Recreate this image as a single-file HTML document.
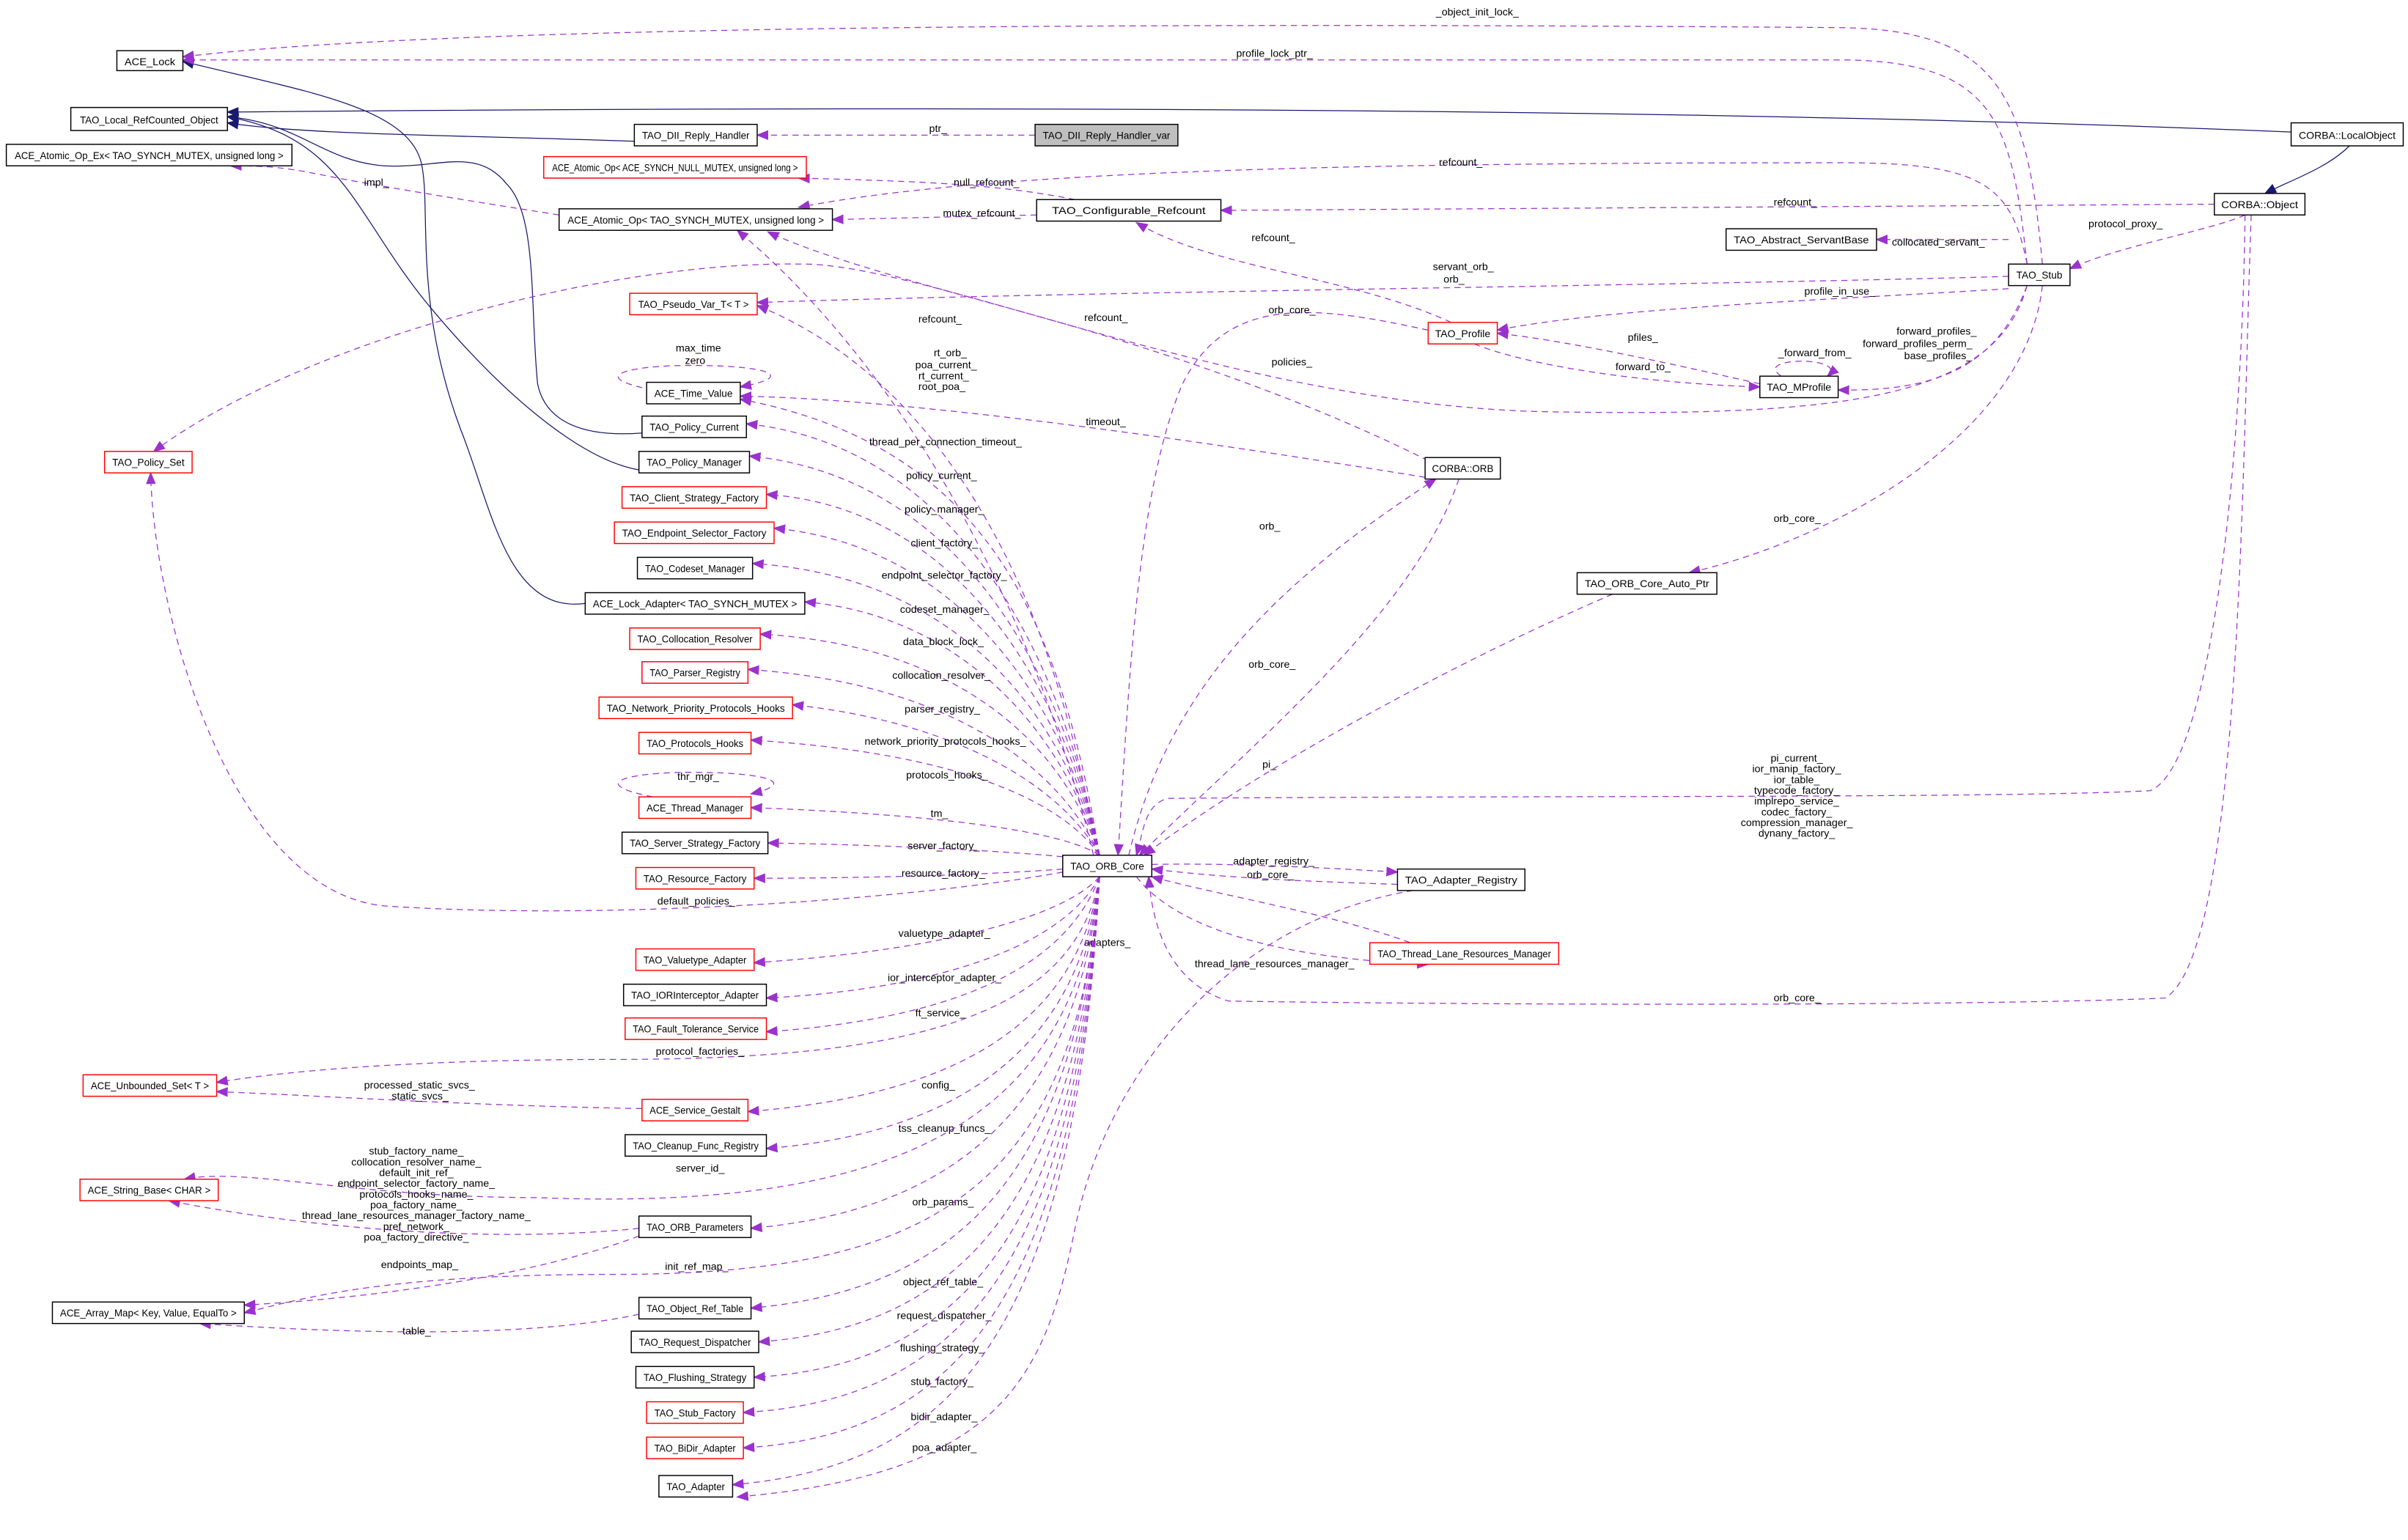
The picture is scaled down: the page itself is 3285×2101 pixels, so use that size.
<!DOCTYPE html>
<html><head><meta charset="utf-8"><style>
html,body{margin:0;padding:0;background:#fff;}
svg{display:block;}
text{font-family:"Liberation Sans Narrow","Liberation Sans",sans-serif;font-size:6.8px;fill:#000;}
.n{fill:#fff;stroke:#000;stroke-width:0.7;}
.r{fill:#fff;stroke:#ff0000;stroke-width:0.7;}
.g{fill:#bfbfbf;stroke:#000;stroke-width:0.7;}
.d{fill:none;stroke:#9a32cd;stroke-width:0.6;stroke-dasharray:4,3;}
.b{fill:none;stroke:#191970;stroke-width:0.6;}
</style></head><body>
<svg width="3285" height="2101" viewBox="0 0 1568 1003" xmlns="http://www.w3.org/2000/svg">
<defs>
<marker id="pa" viewBox="0 0 10 10" refX="9" refY="5" markerWidth="8" markerHeight="8" markerUnits="userSpaceOnUse" orient="auto"><path d="M0,1 L10,5 L0,9 z" fill="#9a32cd"/></marker>
<marker id="ba" viewBox="0 0 10 10" refX="9" refY="5" markerWidth="8" markerHeight="8" markerUnits="userSpaceOnUse" orient="auto"><path d="M0,1 L10,5 L0,9 z" fill="#191970"/></marker>
</defs>

<path class="b" marker-end="url(#ba)" d="M1492,86 C1300,78 900,66 148,73"/>
<path class="b" marker-end="url(#ba)" d="M413,92 C300,88 200,88 148,80"/>
<path class="b" marker-end="url(#ba)" d="M1530,95 C1515,110 1490,118 1475,126"/>
<path class="b" marker-end="url(#ba)" d="M418,282 C380,285 355,275 350,250 C345,200 350,140 330,120 C310,95 285,110 250,108 C210,105 195,80 148,76"/>
<path class="b" marker-end="url(#ba)" d="M416,306 C380,300 330,260 280,200 C230,140 225,90 148,76"/>
<path class="b" marker-end="url(#ba)" d="M381,393 C330,400 320,330 300,280 C270,200 280,140 275,110 C270,70 200,60 119,40"/>

<path class="d" marker-end="url(#pa)" d="M1330,172 C1320,60 1300,20 1200,18 C800,15 300,15 119,37"/>
<text x="935" y="10">_object_init_lock_</text>
<path class="d" marker-end="url(#pa)" d="M1320,172 C1310,80 1300,40 1200,39 C900,39 400,39 119,39"/>
<text x="805" y="37">profile_lock_ptr_</text>
<path class="d" marker-end="url(#pa)" d="M674,88 L493,88"/>
<text x="605" y="86">ptr_</text>
<path class="d" marker-end="url(#pa)" d="M364,140 C300,130 240,120 215,115 C190,110 180,108 150,108"/>
<text x="237" y="121">impl_</text>
<path class="d" marker-end="url(#pa)" d="M700,130 C650,120 600,118 520,116"/>
<text x="621" y="121">null_refcount_</text>
<path class="d" marker-end="url(#pa)" d="M675,140 L542,143"/>
<text x="614" y="141">mutex_refcount_</text>
<path class="d" marker-end="url(#pa)" d="M1442,133 L795,137"/>
<text x="1155" y="134">refcount_</text>
<path class="d" marker-end="url(#pa)" d="M1320,172 C1310,120 1290,106 1200,106 C900,106 650,110 520,135"/>
<text x="937" y="108">refcount_</text>
<path class="d" marker-end="url(#pa)" d="M945,210 C880,180 790,175 740,145"/>
<text x="815" y="157">refcount_</text>
<path class="d" marker-end="url(#pa)" d="M930,300 C850,260 760,230 690,210 C620,190 540,170 500,151"/>
<text x="706" y="209">refcount_</text>
<path class="d" marker-end="url(#pa)" d="M1308,156 L1222,156"/>
<text x="1232" y="160">collocated_servant_</text>
<path class="d" marker-end="url(#pa)" d="M1462,140 C1440,150 1380,160 1348,175"/>
<text x="1360" y="148">protocol_proxy_</text>
<path class="d" marker-end="url(#pa)" d="M1308,180 C1100,186 700,190 493,197"/>
<text x="933" y="176">servant_orb_</text><text x="940" y="184">orb_</text>
<path class="d" marker-end="url(#pa)" d="M1320,186 C1300,260 1200,272 1000,268 C800,262 600,170 520,172 C400,170 200,220 100,294"/>
<text x="828" y="238">policies_</text>
<path class="d" marker-end="url(#pa)" d="M1308,188 C1200,195 1050,200 975,215"/>
<text x="1175" y="192">profile_in_use_</text>
<path class="d" marker-end="url(#pa)" d="M930,215 C860,200 800,190 770,250 C740,320 735,450 728,557"/>
<text x="826" y="204">orb_core_</text>
<path class="d" marker-end="url(#pa)" d="M1146,250 C1080,235 1020,222 975,217"/>
<text x="1060" y="222">pfiles_</text>
<path class="d" marker-end="url(#pa)" d="M960,224 C1000,240 1080,250 1146,252"/>
<text x="1052" y="241">forward_to_</text>
<path class="d" marker-end="url(#pa)" d="M1160,245 C1140,232 1205,232 1190,245"/>
<text x="1158" y="232">_forward_from_</text>
<path class="d" marker-end="url(#pa)" d="M1320,186 C1300,240 1260,255 1197,254"/>
<text x="1235" y="218">forward_profiles_</text><text x="1213" y="226">forward_profiles_perm_</text><text x="1240" y="234">base_profiles_</text>
<path class="d" marker-end="url(#pa)" d="M935,312 C800,290 600,260 482,258"/>
<text x="707" y="277">timeout_</text>
<path class="d" marker-end="url(#pa)" d="M425,254 C380,245 410,238 450,238 C500,238 520,245 482,252"/>
<text x="440" y="229">max_time</text><text x="446" y="237">zero</text>
<path class="d" marker-end="url(#pa)" d="M735,557 C760,450 830,380 935,312"/>
<text x="820" y="345">orb_</text>
<path class="d" marker-end="url(#pa)" d="M950,312 C920,400 820,480 742,557"/>
<text x="813" y="435">orb_core_</text>
<path class="d" marker-end="url(#pa)" d="M1330,186 C1320,280 1200,350 1100,373"/>
<text x="1155" y="340">orb_core_</text>
<path class="d" marker-end="url(#pa)" d="M1050,387 C950,430 820,500 745,557"/>
<text x="822" y="500">pi_</text>
<path class="d" marker-end="url(#pa)" d="M1462,140 C1460,300 1440,500 1400,515 C1300,520 1000,518 760,520 C745,525 745,540 740,557"/>
<text x="1170" y="496" text-anchor="middle">pi_current_</text>
<text x="1170" y="503" text-anchor="middle">ior_manip_factory_</text>
<text x="1170" y="510" text-anchor="middle">ior_table_</text>
<text x="1170" y="517" text-anchor="middle">typecode_factory_</text>
<text x="1170" y="524" text-anchor="middle">implrepo_service_</text>
<text x="1170" y="531" text-anchor="middle">codec_factory_</text>
<text x="1170" y="538" text-anchor="middle">compression_manager_</text>
<text x="1170" y="545" text-anchor="middle">dynany_factory_</text>
<path class="d" marker-end="url(#pa)" d="M1466,140 C1460,300 1460,620 1410,650 C1300,655 1000,655 800,652 C760,640 750,600 748,571"/>
<text x="1155" y="652">orb_core_</text>
<path class="d" marker-end="url(#pa)" d="M750,563 C800,562 860,565 910,568"/>
<text x="803" y="563">adapter_registry_</text>
<path class="d" marker-end="url(#pa)" d="M910,576 C850,574 800,572 750,566"/>
<text x="812" y="572">orb_core_</text>
<path class="d" marker-end="url(#pa)" d="M740,571 C770,610 850,625 930,628"/>
<text x="778" y="630">thread_lane_resources_manager_</text>
<path class="d" marker-end="url(#pa)" d="M950,628 C900,600 800,585 750,571"/>
<path class="d" marker-end="url(#pa)" d="M920,580 C800,600 720,700 700,800 C680,900 650,960 480,975"/>
<text x="706" y="616">adapters_</text>

<g>
<path class="d" marker-end="url(#pa)" d="M712,557 C680,420 600,250 480,150"/><text x="598" y="210">refcount_</text>
<path class="d" marker-end="url(#pa)" d="M714,557 C690,400 620,250 493,199"/>
<text x="608" y="232">rt_orb_</text><text x="596" y="240">poa_current_</text><text x="598" y="247">rt_current_</text><text x="598" y="254">root_poa_</text>
<path class="d" marker-end="url(#pa)" d="M716,557 C690,400 640,290 482,260"/><text x="566" y="290">thread_per_connection_timeout_</text>
<path class="d" marker-end="url(#pa)" d="M716,557 C690,420 620,290 486,276"/><text x="590" y="312">policy_current_</text>
<path class="d" marker-end="url(#pa)" d="M716,557 C690,430 620,310 488,297"/><text x="589" y="334">policy_manager_</text>
<path class="d" marker-end="url(#pa)" d="M716,557 C690,440 620,330 499,322"/><text x="593" y="356">client_factory_</text>
<path class="d" marker-end="url(#pa)" d="M716,557 C690,450 620,355 504,344"/><text x="574" y="377">endpoint_selector_factory_</text>
<path class="d" marker-end="url(#pa)" d="M716,557 C690,460 620,375 490,367"/><text x="586" y="399">codeset_manager_</text>
<path class="d" marker-end="url(#pa)" d="M716,557 C690,470 620,400 524,392"/><text x="588" y="420">data_block_lock_</text>
<path class="d" marker-end="url(#pa)" d="M716,557 C690,480 620,420 495,413"/><text x="581" y="442">collocation_resolver_</text>
<path class="d" marker-end="url(#pa)" d="M716,557 C690,500 620,445 487,436"/><text x="589" y="464">parser_registry_</text>
<path class="d" marker-end="url(#pa)" d="M716,557 C690,510 620,470 516,459"/><text x="563" y="485">network_priority_protocols_hooks_</text>
<path class="d" marker-end="url(#pa)" d="M716,557 C690,520 620,490 489,482"/><text x="590" y="507">protocols_hooks_</text>
<path class="d" marker-end="url(#pa)" d="M716,557 C690,540 600,530 489,526"/><text x="606" y="532">tm_</text>
<path class="d" marker-end="url(#pa)" d="M425,519 C380,510 410,503 450,503 C500,503 520,510 489,517"/><text x="441" y="508">thr_mgr_</text>
<path class="d" marker-end="url(#pa)" d="M692,558 C640,553 560,550 500,549"/><text x="591" y="553">server_factory_</text>
<path class="d" marker-end="url(#pa)" d="M692,566 C640,570 560,572 491,572"/><text x="587" y="571">resource_factory_</text>
<path class="d" marker-end="url(#pa)" d="M692,568 C600,585 400,600 250,590 C150,580 100,400 98,308"/><text x="428" y="589">default_policies_</text>
<path class="d" marker-end="url(#pa)" d="M716,571 C690,600 600,620 491,627"/><text x="585" y="610">valuetype_adapter_</text>
<path class="d" marker-end="url(#pa)" d="M716,571 C690,620 600,645 499,650"/><text x="578" y="639">ior_interceptor_adapter_</text>
<path class="d" marker-end="url(#pa)" d="M716,571 C690,640 600,665 499,672"/><text x="596" y="662">ft_service_</text>
<path class="d" marker-end="url(#pa)" d="M716,571 C700,660 600,690 400,690 C250,690 170,700 141,705"/><text x="427" y="687">protocol_factories_</text>
<path class="d" marker-end="url(#pa)" d="M716,571 C700,680 600,715 487,724"/><text x="600" y="709">config_</text>
<path class="d" marker-end="url(#pa)" d="M418,722 C300,720 200,713 141,711"/><text x="237" y="709">processed_static_svcs_</text><text x="255" y="716">static_svcs_</text>
<path class="d" marker-end="url(#pa)" d="M716,571 C700,700 600,740 499,748"/><text x="585" y="737">tss_cleanup_funcs_</text>
<path class="d" marker-end="url(#pa)" d="M716,571 C700,720 600,790 350,780 C230,780 160,760 120,768"/><text x="440" y="763">server_id_</text>
<path class="d" marker-end="url(#pa)" d="M716,571 C700,740 600,790 489,800"/><text x="594" y="785">orb_params_</text>
<path class="d" marker-end="url(#pa)" d="M416,800 C320,810 200,800 110,782"/>
<text x="271" y="752" text-anchor="middle">stub_factory_name_</text>
<text x="271" y="759" text-anchor="middle">collocation_resolver_name_</text>
<text x="271" y="766" text-anchor="middle">default_init_ref_</text>
<text x="271" y="773" text-anchor="middle">endpoint_selector_factory_name_</text>
<text x="271" y="780" text-anchor="middle">protocols_hooks_name_</text>
<text x="271" y="787" text-anchor="middle">poa_factory_name_</text>
<text x="271" y="794" text-anchor="middle">thread_lane_resources_manager_factory_name_</text>
<text x="271" y="801" text-anchor="middle">pref_network_</text>
<text x="271" y="808" text-anchor="middle">poa_factory_directive_</text>
<path class="d" marker-end="url(#pa)" d="M416,805 C350,830 250,845 159,850"/><text x="248" y="826">endpoints_map_</text>
<path class="d" marker-end="url(#pa)" d="M716,571 C700,780 600,830 400,830 C250,830 200,845 159,855"/><text x="433" y="827">init_ref_map_</text>
<path class="d" marker-end="url(#pa)" d="M716,571 C700,770 620,840 489,852"/><text x="588" y="837">object_ref_table_</text>
<path class="d" marker-end="url(#pa)" d="M416,856 C350,870 250,870 130,862"/><text x="262" y="869">table_</text>
<path class="d" marker-end="url(#pa)" d="M716,571 C700,790 620,865 494,874"/><text x="584" y="859">request_dispatcher_</text>
<path class="d" marker-end="url(#pa)" d="M716,571 C700,810 620,890 491,897"/><text x="586" y="880">flushing_strategy_</text>
<path class="d" marker-end="url(#pa)" d="M716,571 C700,830 620,912 484,920"/><text x="593" y="902">stub_factory_</text>
<path class="d" marker-end="url(#pa)" d="M716,571 C700,850 620,935 484,943"/><text x="593" y="925">bidir_adapter_</text>
<path class="d" marker-end="url(#pa)" d="M716,571 C700,870 620,955 477,967"/><text x="594" y="945">poa_adapter_</text>
</g>

<g>
<rect class="n" x="76" y="33" width="43" height="13"/><text x="97.5" y="42.5" text-anchor="middle" textLength="33" lengthAdjust="spacingAndGlyphs">ACE_Lock</text>
<rect class="n" x="46" y="70" width="102" height="15"/><text x="97" y="80.5" text-anchor="middle" textLength="90" lengthAdjust="spacingAndGlyphs">TAO_Local_RefCounted_Object</text>
<rect class="n" x="4" y="94" width="186" height="14"/><text x="97" y="103.5" text-anchor="middle" textLength="175" lengthAdjust="spacingAndGlyphs">ACE_Atomic_Op_Ex&lt; TAO_SYNCH_MUTEX, unsigned long &gt;</text>
<rect class="n" x="413" y="81" width="80" height="14"/><text x="453" y="90.5" text-anchor="middle" textLength="70" lengthAdjust="spacingAndGlyphs">TAO_DII_Reply_Handler</text>
<rect class="g" x="674" y="81" width="93" height="14"/><text x="720.5" y="90.5" text-anchor="middle" textLength="83" lengthAdjust="spacingAndGlyphs">TAO_DII_Reply_Handler_var</text>
<rect class="r" x="354" y="102" width="171" height="14"/><text x="439.5" y="111.5" text-anchor="middle" textLength="160" lengthAdjust="spacingAndGlyphs">ACE_Atomic_Op&lt; ACE_SYNCH_NULL_MUTEX, unsigned long &gt;</text>
<rect class="n" x="364" y="136" width="178" height="14"/><text x="453" y="145.5" text-anchor="middle" textLength="167" lengthAdjust="spacingAndGlyphs">ACE_Atomic_Op&lt; TAO_SYNCH_MUTEX, unsigned long &gt;</text>
<rect class="n" x="675" y="130" width="120" height="14"/><text x="735" y="139.5" text-anchor="middle" textLength="100" lengthAdjust="spacingAndGlyphs">TAO_Configurable_Refcount</text>
<rect class="n" x="1492" y="80" width="73" height="15"/><text x="1528.5" y="90.5" text-anchor="middle" textLength="63" lengthAdjust="spacingAndGlyphs">CORBA::LocalObject</text>
<rect class="n" x="1442" y="126" width="59" height="14"/><text x="1471.5" y="135.5" text-anchor="middle" textLength="50" lengthAdjust="spacingAndGlyphs">CORBA::Object</text>
<rect class="n" x="1124" y="149" width="98" height="14"/><text x="1173" y="158.5" text-anchor="middle" textLength="88" lengthAdjust="spacingAndGlyphs">TAO_Abstract_ServantBase</text>
<rect class="n" x="1308" y="172" width="40" height="14"/><text x="1328" y="181.5" text-anchor="middle" textLength="30" lengthAdjust="spacingAndGlyphs">TAO_Stub</text>
<rect class="r" x="410" y="191" width="83" height="14"/><text x="451.5" y="200.5" text-anchor="middle" textLength="72" lengthAdjust="spacingAndGlyphs">TAO_Pseudo_Var_T&lt; T &gt;</text>
<rect class="r" x="930" y="210" width="45" height="14"/><text x="952.5" y="219.5" text-anchor="middle" textLength="36" lengthAdjust="spacingAndGlyphs">TAO_Profile</text>
<rect class="n" x="1146" y="245" width="51" height="14"/><text x="1171.5" y="254.5" text-anchor="middle" textLength="42" lengthAdjust="spacingAndGlyphs">TAO_MProfile</text>
<rect class="n" x="421" y="249" width="61" height="14"/><text x="451.5" y="258.5" text-anchor="middle" textLength="51" lengthAdjust="spacingAndGlyphs">ACE_Time_Value</text>
<rect class="n" x="418" y="271" width="68" height="14"/><text x="452" y="280.5" text-anchor="middle" textLength="58" lengthAdjust="spacingAndGlyphs">TAO_Policy_Current</text>
<rect class="r" x="68" y="294" width="57" height="14"/><text x="96.5" y="303.5" text-anchor="middle" textLength="47" lengthAdjust="spacingAndGlyphs">TAO_Policy_Set</text>
<rect class="n" x="416" y="294" width="72" height="14"/><text x="452" y="303.5" text-anchor="middle" textLength="62" lengthAdjust="spacingAndGlyphs">TAO_Policy_Manager</text>
<rect class="n" x="928" y="298" width="49" height="14"/><text x="952.5" y="307.5" text-anchor="middle" textLength="40" lengthAdjust="spacingAndGlyphs">CORBA::ORB</text>
<rect class="r" x="405" y="317" width="94" height="14"/><text x="452" y="326.5" text-anchor="middle" textLength="84" lengthAdjust="spacingAndGlyphs">TAO_Client_Strategy_Factory</text>
<rect class="r" x="400" y="340" width="104" height="14"/><text x="452" y="349.5" text-anchor="middle" textLength="94" lengthAdjust="spacingAndGlyphs">TAO_Endpoint_Selector_Factory</text>
<rect class="n" x="415" y="363" width="75" height="14"/><text x="452.5" y="372.5" text-anchor="middle" textLength="65" lengthAdjust="spacingAndGlyphs">TAO_Codeset_Manager</text>
<rect class="n" x="381" y="386" width="143" height="14"/><text x="452.5" y="395.5" text-anchor="middle" textLength="133" lengthAdjust="spacingAndGlyphs">ACE_Lock_Adapter&lt; TAO_SYNCH_MUTEX &gt;</text>
<rect class="r" x="410" y="409" width="85" height="14"/><text x="452.5" y="418.5" text-anchor="middle" textLength="75" lengthAdjust="spacingAndGlyphs">TAO_Collocation_Resolver</text>
<rect class="r" x="418" y="431" width="69" height="14"/><text x="452.5" y="440.5" text-anchor="middle" textLength="59" lengthAdjust="spacingAndGlyphs">TAO_Parser_Registry</text>
<rect class="r" x="390" y="454" width="126" height="14"/><text x="453" y="463.5" text-anchor="middle" textLength="116" lengthAdjust="spacingAndGlyphs">TAO_Network_Priority_Protocols_Hooks</text>
<rect class="r" x="416" y="477" width="73" height="14"/><text x="452.5" y="486.5" text-anchor="middle" textLength="63" lengthAdjust="spacingAndGlyphs">TAO_Protocols_Hooks</text>
<rect class="r" x="416" y="519" width="73" height="14"/><text x="452.5" y="528.5" text-anchor="middle" textLength="63" lengthAdjust="spacingAndGlyphs">ACE_Thread_Manager</text>
<rect class="n" x="405" y="542" width="95" height="14"/><text x="452.5" y="551.5" text-anchor="middle" textLength="85" lengthAdjust="spacingAndGlyphs">TAO_Server_Strategy_Factory</text>
<rect class="r" x="414" y="565" width="77" height="14"/><text x="452.5" y="574.5" text-anchor="middle" textLength="67" lengthAdjust="spacingAndGlyphs">TAO_Resource_Factory</text>
<rect class="n" x="1027" y="373" width="91" height="14"/><text x="1072.5" y="382.5" text-anchor="middle" textLength="81" lengthAdjust="spacingAndGlyphs">TAO_ORB_Core_Auto_Ptr</text>
<rect class="n" x="692" y="557" width="58" height="14"/><text x="721" y="566.5" text-anchor="middle" textLength="48" lengthAdjust="spacingAndGlyphs">TAO_ORB_Core</text>
<rect class="n" x="910" y="566" width="83" height="14"/><text x="951.5" y="575.5" text-anchor="middle" textLength="73" lengthAdjust="spacingAndGlyphs">TAO_Adapter_Registry</text>
<rect class="r" x="892" y="614" width="123" height="14"/><text x="953.5" y="623.5" text-anchor="middle" textLength="113" lengthAdjust="spacingAndGlyphs">TAO_Thread_Lane_Resources_Manager</text>
<rect class="r" x="414" y="618" width="77" height="14"/><text x="452.5" y="627.5" text-anchor="middle" textLength="67" lengthAdjust="spacingAndGlyphs">TAO_Valuetype_Adapter</text>
<rect class="n" x="406" y="641" width="93" height="14"/><text x="452.5" y="650.5" text-anchor="middle" textLength="83" lengthAdjust="spacingAndGlyphs">TAO_IORInterceptor_Adapter</text>
<rect class="r" x="407" y="663" width="92" height="14"/><text x="453" y="672.5" text-anchor="middle" textLength="82" lengthAdjust="spacingAndGlyphs">TAO_Fault_Tolerance_Service</text>
<rect class="r" x="54" y="700" width="87" height="14"/><text x="97.5" y="709.5" text-anchor="middle" textLength="77" lengthAdjust="spacingAndGlyphs">ACE_Unbounded_Set&lt; T &gt;</text>
<rect class="r" x="418" y="716" width="69" height="14"/><text x="452.5" y="725.5" text-anchor="middle" textLength="59" lengthAdjust="spacingAndGlyphs">ACE_Service_Gestalt</text>
<rect class="n" x="407" y="739" width="92" height="14"/><text x="453" y="748.5" text-anchor="middle" textLength="82" lengthAdjust="spacingAndGlyphs">TAO_Cleanup_Func_Registry</text>
<rect class="r" x="52" y="768" width="90" height="14"/><text x="97" y="777.5" text-anchor="middle" textLength="80" lengthAdjust="spacingAndGlyphs">ACE_String_Base&lt; CHAR &gt;</text>
<rect class="n" x="416" y="792" width="73" height="14"/><text x="452.5" y="801.5" text-anchor="middle" textLength="63" lengthAdjust="spacingAndGlyphs">TAO_ORB_Parameters</text>
<rect class="n" x="34" y="848" width="125" height="14"/><text x="96.5" y="857.5" text-anchor="middle" textLength="115" lengthAdjust="spacingAndGlyphs">ACE_Array_Map&lt; Key, Value, EqualTo &gt;</text>
<rect class="n" x="416" y="845" width="73" height="14"/><text x="452.5" y="854.5" text-anchor="middle" textLength="63" lengthAdjust="spacingAndGlyphs">TAO_Object_Ref_Table</text>
<rect class="n" x="411" y="867" width="83" height="14"/><text x="452.5" y="876.5" text-anchor="middle" textLength="73" lengthAdjust="spacingAndGlyphs">TAO_Request_Dispatcher</text>
<rect class="n" x="414" y="890" width="77" height="14"/><text x="452.5" y="899.5" text-anchor="middle" textLength="67" lengthAdjust="spacingAndGlyphs">TAO_Flushing_Strategy</text>
<rect class="r" x="421" y="913" width="63" height="14"/><text x="452.5" y="922.5" text-anchor="middle" textLength="53" lengthAdjust="spacingAndGlyphs">TAO_Stub_Factory</text>
<rect class="r" x="421" y="936" width="63" height="14"/><text x="452.5" y="945.5" text-anchor="middle" textLength="53" lengthAdjust="spacingAndGlyphs">TAO_BiDir_Adapter</text>
<rect class="n" x="429" y="961" width="48" height="14"/><text x="453" y="970.5" text-anchor="middle" textLength="38" lengthAdjust="spacingAndGlyphs">TAO_Adapter</text>
</g>
</svg>
</body></html>
